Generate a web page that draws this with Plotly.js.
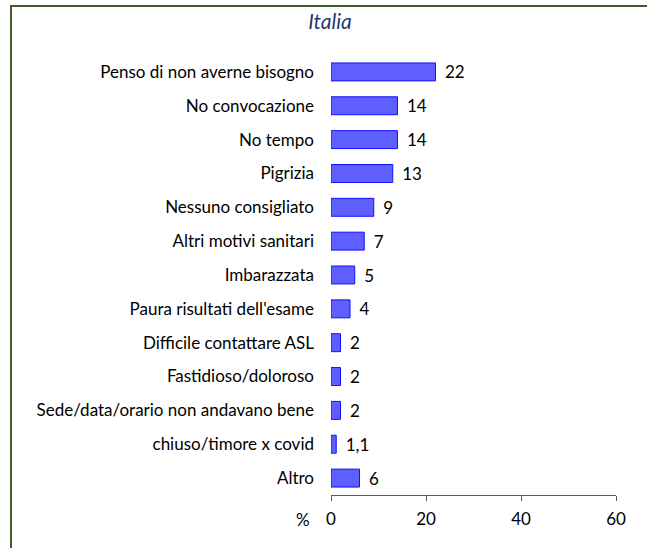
<!DOCTYPE html>
<html>
<head>
<meta charset="utf-8">
<script src="https://cdn.plot.ly/plotly-3.0.1.min.js"></script>
<style>
html,body{margin:0;padding:0;background:#fff;}
#wrap{position:relative;width:647px;height:548px;overflow:hidden;}
#chart{position:absolute;left:0;top:0;width:647px;height:548px;}
#frame{position:absolute;left:10px;top:5px;width:660px;height:560px;border:2px solid #3F5E2A;box-sizing:border-box;pointer-events:none;}
</style>
</head>
<body>
<div id="wrap"><div id="chart"></div><div id="frame"></div></div>
<script>
const categories = [
  "Penso di non averne bisogno",
  "No convocazione",
  "No tempo",
  "Pigrizia",
  "Nessuno consigliato",
  "Altri motivi sanitari",
  "Imbarazzata",
  "Paura risultati dell'esame",
  "Difficile contattare ASL",
  "Fastidioso/doloroso",
  "Sede/data/orario non andavano bene",
  "chiuso/timore x covid",
  "Altro"
];
const values = [22, 14, 14, 13, 9, 7, 5, 4, 2, 2, 2, 1.1, 6];
const tickValues = [0, 20, 40, 60];
const chartTitle = "Italia";
const axisUnit = "%";

const FONT = 'Lato, sans-serif';
const trace = {
  type: 'bar',
  orientation: 'h',
  x: values,
  y: categories,
  marker: {color: '#5F5FFF', line: {color: '#1010FF', width: 1}},
  text: values.map(v => '\u00a0\u2009' + String(v).replace('.', ',')),
  textposition: 'outside',
  constraintext: 'none',
  cliponaxis: false,
  textfont: {family: FONT, size: 17, color: '#000'},
  hoverinfo: 'none'
};

const layout = {
  width: 647, height: 548,
  margin: {l: 331, r: 31, t: 55, b: 53, pad: 0},
  paper_bgcolor: '#fff', plot_bgcolor: '#fff',
  bargap: 0.47,
  showlegend: false,
  font: {family: FONT, size: 17, color: '#000'},
  title: {text: '<i>' + chartTitle + '</i>', x: 0.51, xref: 'container', xanchor: 'center', y: 1 - 22/548, yref: 'container', yanchor: 'middle',
          font: {family: FONT, size: 21, color: '#1F3A78'}},
  xaxis: {range: [0, 60], tickvals: tickValues, ticktext: tickValues.map(String),
          showgrid: false, zeroline: false, showline: true, linecolor: '#595959', linewidth: 1,
          ticks: 'outside', ticklen: 5, tickcolor: '#595959', ticklabelstandoff: 4, tickfont: {size: 17}},
  yaxis: {autorange: 'reversed', showgrid: false, zeroline: false, showline: false, ticks: '',
          ticklabelstandoff: 16, tickfont: {size: 17}},
  annotations: [{text: axisUnit, xref: 'paper', yref: 'paper', x: 0, y: 0, xanchor: 'right', yanchor: 'top',
                 xshift: -19, yshift: -12, showarrow: false, font: {size: 17}}]
};

Plotly.newPlot('chart', [trace], layout, {displayModeBar: false, staticPlot: true});
</script>
</body>
</html>
